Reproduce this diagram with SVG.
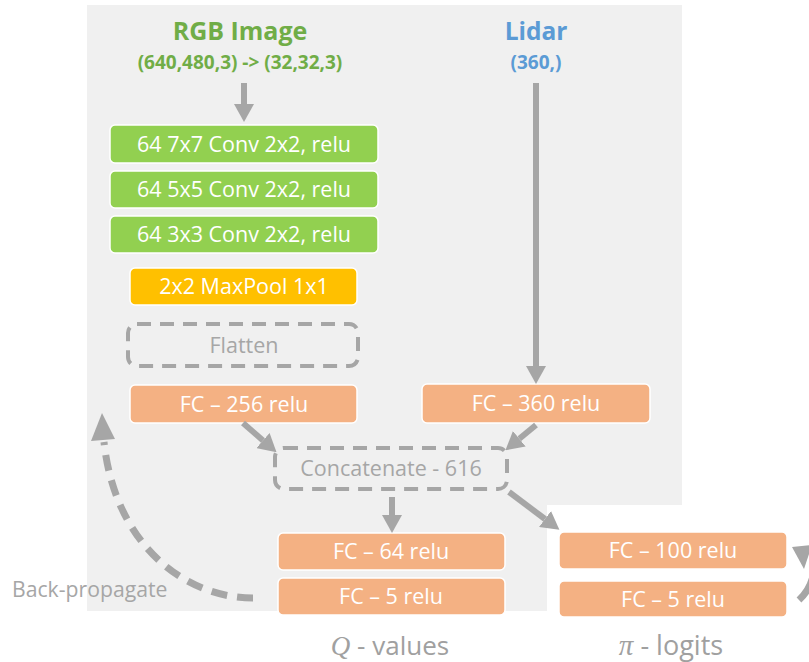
<svg xmlns="http://www.w3.org/2000/svg" width="809" height="662" viewBox="0 0 809 662">
  <style>
    .lbl { font-family: "Open Sans", "Liberation Sans", sans-serif; font-size: 21.5px; text-anchor: middle; }
    .wt { fill: #ffffff; }
    .gt { fill: #a6a6a6; }
    .green { fill: #92d050; stroke: #ffffff; stroke-width: 1.5; }
    .yellow { fill: #ffc000; stroke: #ffffff; stroke-width: 1.5; }
    .orange { fill: #f4b183; stroke: #ffffff; stroke-width: 1.5; }
    .dash { fill: none; stroke: #a6a6a6; stroke-width: 4; stroke-dasharray: 14 9; }
    .arr { stroke: #a6a6a6; stroke-width: 6; fill: none; marker-end: url(#head); }
    .title { font-family: "Open Sans", "Liberation Sans", sans-serif; font-weight: bold; text-anchor: middle; }
  </style>
  <defs>
    <marker id="head" markerUnits="userSpaceOnUse" markerWidth="18" markerHeight="20" viewBox="0 0 18 20" refX="0" refY="10" orient="auto">
      <path d="M0,0 L18,10 L0,20 z" fill="#a6a6a6"/>
    </marker>
  </defs>

  <!-- panel backdrop -->
  <path d="M87,5 H682 V505 H547 V611 H87 Z" fill="#f0f0f0"/>

  <!-- inputs -->
  <g id="rgb-input">
    <text class="title" x="240" y="40" font-size="25" fill="#70ad47">RGB Image</text>
    <text class="title" x="240" y="69" font-size="19" fill="#70ad47">(640,480,3) -&gt; (32,32,3)</text>
  </g>
  <g id="lidar-input">
    <text class="title" x="536" y="40" font-size="24.5" fill="#5b9bd5">Lidar</text>
    <text class="title" x="536" y="69" font-size="19" fill="#5b9bd5">(360,)</text>
  </g>

  <!-- image branch -->
  <g id="conv1">
    <rect class="green" x="110" y="125" width="268" height="38" rx="5"/>
    <text class="lbl wt" x="244" y="152">64 7x7 Conv 2x2, relu</text>
  </g>
  <g id="conv2">
    <rect class="green" x="110" y="171" width="268" height="37" rx="5"/>
    <text class="lbl wt" x="244" y="197">64 5x5 Conv 2x2, relu</text>
  </g>
  <g id="conv3">
    <rect class="green" x="110" y="216" width="268" height="37" rx="5"/>
    <text class="lbl wt" x="244" y="242">64 3x3 Conv 2x2, relu</text>
  </g>
  <g id="maxpool">
    <rect class="yellow" x="130" y="268" width="227" height="37" rx="5"/>
    <text class="lbl wt" x="244" y="294">2x2 MaxPool 1x1</text>
  </g>
  <g id="flatten">
    <rect class="dash" x="128" y="324" width="230" height="42" rx="9"/>
    <text class="lbl gt" x="244" y="353">Flatten</text>
  </g>
  <g id="fc256">
    <rect class="orange" x="130" y="385" width="227" height="38" rx="5"/>
    <text class="lbl wt" x="244" y="412">FC – 256 relu</text>
  </g>

  <!-- lidar branch -->
  <g id="fc360">
    <rect class="orange" x="422" y="384" width="228" height="39" rx="5"/>
    <text class="lbl wt" x="536" y="411">FC – 360 relu</text>
  </g>

  <g id="concat">
    <rect class="dash" x="275" y="448" width="232" height="41" rx="9"/>
    <text class="lbl gt" x="391" y="476">Concatenate - 616</text>
  </g>

  <!-- Q head -->
  <g id="fc64">
    <rect class="orange" x="278" y="533" width="227" height="37" rx="5"/>
    <text class="lbl wt" x="391" y="559">FC – 64 relu</text>
  </g>
  <g id="fc5-q">
    <rect class="orange" x="278" y="578" width="227" height="37" rx="5"/>
    <text class="lbl wt" x="391" y="604">FC – 5 relu</text>
  </g>
  <g id="q-label">
    <text x="390" y="655" text-anchor="middle" font-size="27" fill="#a0a0a0"><tspan font-family="'Liberation Serif', serif" font-style="italic">Q</tspan><tspan font-family="'Open Sans', 'Liberation Sans', sans-serif" font-size="26"> - values</tspan></text>
  </g>

  <!-- policy head -->
  <g id="fc100">
    <rect class="orange" x="559" y="532" width="228" height="37" rx="5"/>
    <text class="lbl wt" x="673" y="558">FC – 100 relu</text>
  </g>
  <g id="fc5-pi">
    <rect class="orange" x="559" y="581" width="228" height="36" rx="5"/>
    <text class="lbl wt" x="673" y="607">FC – 5 relu</text>
  </g>
  <g id="pi-label">
    <text x="671" y="655" text-anchor="middle" font-size="29" fill="#a0a0a0"><tspan font-family="'Liberation Serif', serif" font-style="italic">π</tspan><tspan font-family="'Open Sans', 'Liberation Sans', sans-serif" font-size="27"> - logits</tspan></text>
  </g>

  <g id="backprop-label">
    <text x="12" y="597" font-family="'Open Sans', 'Liberation Sans', sans-serif" font-size="21.2" fill="#a6a6a6">Back-propagate</text>
  </g>

  <!-- connectors -->
  <g id="connectors">
    <line class="arr" x1="244" y1="83" x2="244" y2="104"/>
    <line class="arr" x1="536" y1="83" x2="536" y2="366"/>
    <line class="arr" x1="243" y1="423" x2="263" y2="440.5"/>
    <line class="arr" x1="536" y1="425" x2="519.3" y2="438.8"/>
    <line class="arr" x1="392" y1="497" x2="392" y2="515"/>
    <line class="arr" x1="509" y1="492" x2="545" y2="519"/>
    <!-- back-propagation path -->
    <path d="M253,598 C185,598 115,545 104,442" fill="none" stroke="#a6a6a6" stroke-width="7" stroke-dasharray="16 10"/>
    <polygon points="102,413 91,441 115,439" fill="#a6a6a6"/>
    <!-- loop on the policy head -->
    <path d="M799,600 Q812,588 814,570" fill="none" stroke="#a6a6a6" stroke-width="7"/>
    <polygon points="792,547 812,545 804,569" fill="#a6a6a6"/>
  </g>
</svg>
